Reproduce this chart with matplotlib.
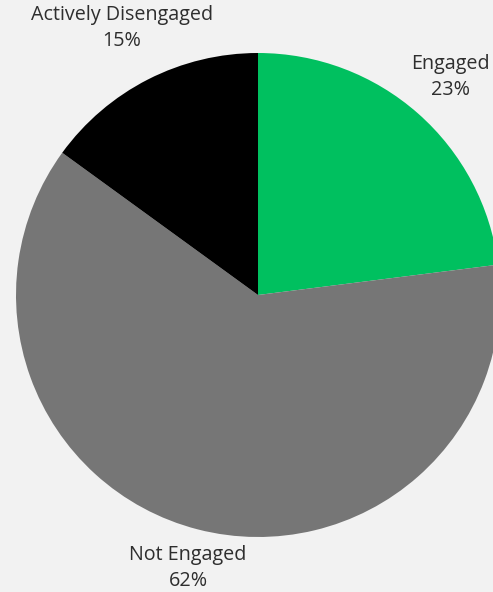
import matplotlib.pyplot as plt

labels = ["Engaged", "Not Engaged", "Actively Disengaged"]
values = [23, 62, 15]
colors = ["#00c05f", "#767676", "#000000"]

# label anchor points in pixel coords (x, y from top)
label_pos = [(450, 77), (188, 568), (122, 28)]

W, H = 493, 592
fig = plt.figure(figsize=(W / 100, H / 100), dpi=100, facecolor="#f2f2f2")
ax = fig.add_axes([0, 0, 1, 1])

ax.pie(values, colors=colors, startangle=90, counterclock=False,
       center=(258, H - 295), radius=242, frame=True,
       wedgeprops=dict(linewidth=0))
ax.set_xlim(0, W)
ax.set_ylim(0, H)
ax.set_aspect("equal")
ax.axis("off")

for lab, v, (x, y) in zip(labels, values, label_pos):
    ax.text(x, H - y, f"{lab}\n{v}%", ha="center", va="center",
            fontsize=14.2, family="Open Sans", color="#2e2e2e",
            linespacing=1.35)

fig.savefig("out.png", dpi=100, facecolor=fig.get_facecolor())
